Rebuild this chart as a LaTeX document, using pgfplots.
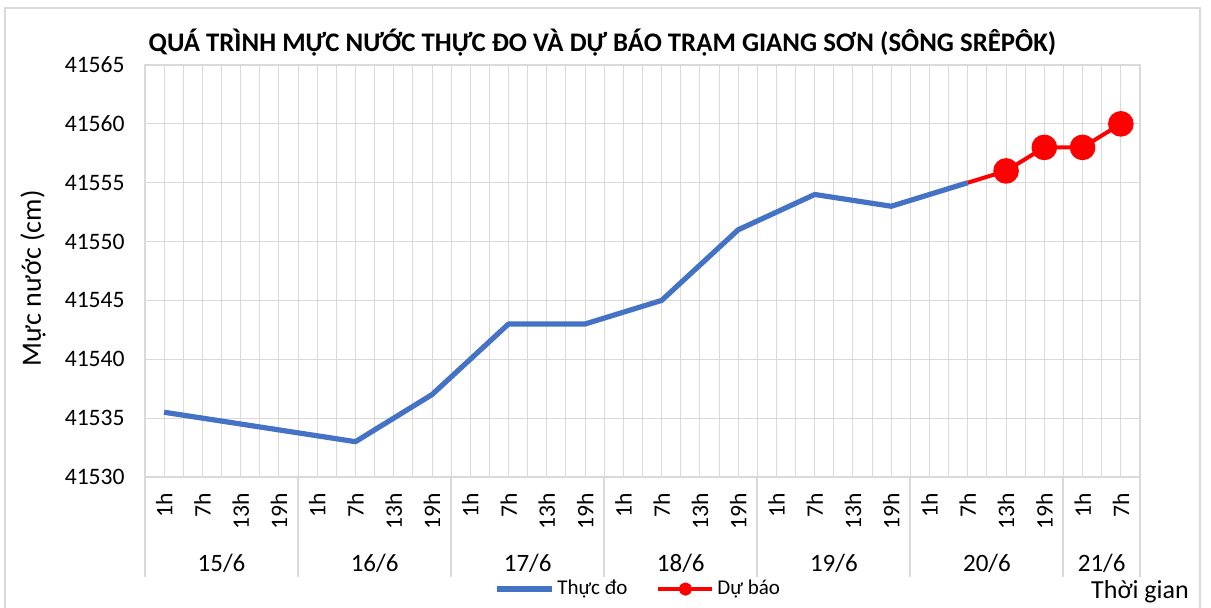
\documentclass[border=0pt]{standalone}
\usepackage{fontspec}
\setmainfont{Carlito}
\usepackage{pgfplots}
\pgfplotsset{compat=1.18}
\definecolor{thucdo}{HTML}{4472C4}
\definecolor{gridc}{HTML}{D9D9D9}

\begin{document}
\begin{tikzpicture}
\useasboundingbox (0,0) rectangle (605.5pt,304pt);
% khung ngoai
\draw[gridc, line width=1pt] (2.5pt,-1pt) -- (2.5pt,300pt) -- (600pt,300pt) -- (600pt,-1pt);

\begin{axis}[
  at={(72.5pt,65.5pt)}, anchor=south west,
  scale only axis, width=497.5pt, height=206pt,
  xmin=-0.5, xmax=25.5, ymin=41530, ymax=41565,
  xtick={0,...,25},
  xticklabels={1h,7h,13h,19h,1h,7h,13h,19h,1h,7h,13h,19h,1h,7h,13h,19h,1h,7h,13h,19h,1h,7h,13h,19h,1h,7h},
  minor x tick num=1,
  ytick={41530,41535,...,41565},
  scaled y ticks=false,
  grid=both,
  major grid style={gridc, line width=0.5pt},
  minor grid style={gridc, line width=0.5pt},
  axis line style={gridc, line width=0.8pt},
  major tick length=0pt, minor tick length=0pt,
  /pgf/number format/assume math mode=true,
  /pgf/number format/set thousands separator={},
  yticklabel style={font=\fontsize{11.8}{12}\selectfont, inner sep=0pt, anchor=east, xshift=-10pt,
    /pgf/number format/fixed, /pgf/number format/precision=0},
  xticklabel style={font=\fontsize{11.8}{12}\selectfont, rotate=90, anchor=east, inner sep=0pt},
  xticklabel shift=8pt,
  clip=false,
  legend columns=2,
  legend style={at={(0.496,-0.272)}, anchor=center, draw=none, fill=none,
    font=\fontsize{10.5}{12}\selectfont, inner sep=0pt,
    nodes={inner sep=1.5pt},
    /tikz/every even column/.append style={column sep=13pt}},
]
\addplot[thucdo, line width=2.6pt, line join=round,
  legend image code/.code={\draw[thucdo, line width=2.6pt] (0pt,0pt) -- (27.5pt,0pt);}]
  coordinates {
  (0,41535.5) (1,41535) (2,41534.5) (3,41534)
  (4,41533.5) (5,41533) (6,41535) (7,41537)
  (8,41540) (9,41543) (10,41543) (11,41543)
  (12,41544) (13,41545) (14,41548) (15,41551)
  (16,41552.5) (17,41554) (18,41553.5) (19,41553)
  (20,41554) (21,41555)
};
\addlegendentry{Thực đo}
\addplot[red, line width=2pt, line join=round, mark=*, mark size=5.4pt,
  mark indices={2,3,4,5},
  legend image code/.code={\draw[red, line width=2pt] (0pt,0pt) -- (27pt,0pt);
    \fill[red] (13.5pt,0pt) circle (2.3pt);}]
  coordinates {
  (21,41555) (22,41556) (23,41558) (24,41558) (25,41560)
};
\addlegendentry{Dự báo}

% vach phan cach ngay
\pgfplotsinvokeforeach{-0.5,3.5,7.5,11.5,15.5,19.5,23.5,25.5}{
  \draw[gridc, line width=1pt] (axis cs:#1,41530) -- ++(0pt,-50pt);
}
\begin{scope}[font=\fontsize{12.5}{14}\selectfont]
\node at (axis cs:1.5,41530) [yshift=-43pt] {15/6};
\node at (axis cs:5.5,41530) [yshift=-43pt] {16/6};
\node at (axis cs:9.5,41530) [yshift=-43pt] {17/6};
\node at (axis cs:13.5,41530) [yshift=-43pt] {18/6};
\node at (axis cs:17.5,41530) [yshift=-43pt] {19/6};
\node at (axis cs:21.5,41530) [yshift=-43pt] {20/6};
\node at (axis cs:24.5,41530) [yshift=-43pt] {21/6};
\end{scope}
\end{axis}

\node[font=\bfseries\fontsize{13.4}{15}\selectfont] at (301.25pt,282.5pt)
  {QUÁ TRÌNH MỰC NƯỚC THỰC ĐO VÀ DỰ BÁO TRẠM GIANG SƠN (SÔNG SRÊPÔK)};
\node[font=\fontsize{14}{16}\selectfont, rotate=90] at (16.5pt,164.75pt) {Mực nước (cm)};
\node[font=\fontsize{13}{15}\selectfont] at (570pt,8pt) {Thời gian};
\end{tikzpicture}
\end{document}
